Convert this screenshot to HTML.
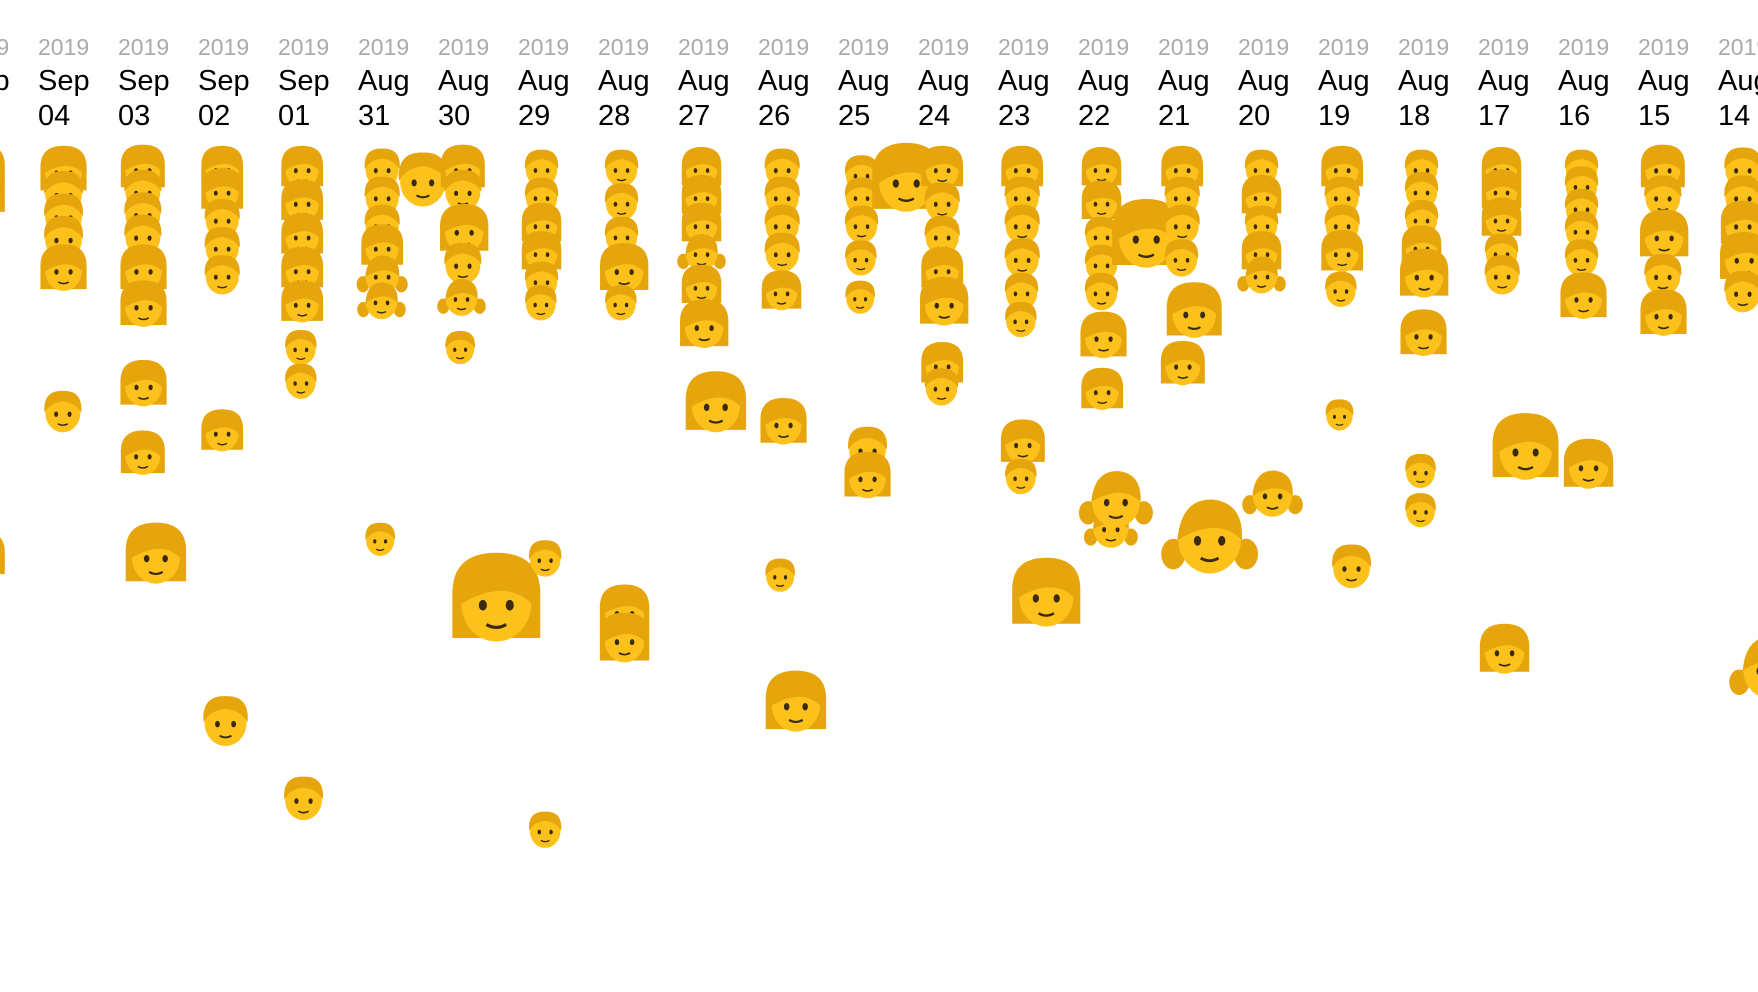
<!DOCTYPE html>
<html><head><meta charset="utf-8">
<style>
html,body{margin:0;padding:0;background:#fff;}
svg{display:block;}
.yr{font-family:"Liberation Sans",sans-serif;font-size:23px;fill:#aaa;}
.md{font-family:"Liberation Sans",sans-serif;font-size:29px;fill:#000;}
</style></head>
<body>
<svg id="chart" width="1758" height="992" viewBox="0 0 1758 992" xmlns="http://www.w3.org/2000/svg"></svg>
<script>
const months=["Sep","Sep","Sep","Sep","Sep","Aug","Aug","Aug","Aug","Aug","Aug","Aug","Aug","Aug","Aug","Aug","Aug","Aug","Aug","Aug","Aug","Aug","Aug"];
const days=["05","04","03","02","01","31","30","29","28","27","26","25","24","23","22","21","20","19","18","17","16","15","14"];
const years=["2019","2019","2019","2019","2019","2019","2019","2019","2019","2019","2019","2019","2019","2019","2019","2019","2019","2019","2019","2019","2019","2019","2019"];
const faceValues=[
[150,172,290,495],
[152,172,192,212,240,367],
[150,170,190,210,240,272,343,405,495],
[150,170,195,220,245,385,643],
[150,180,210,240,270,310,340,712],
[150,175,200,220,245,268,160,481],
[150,170,205,235,265,310,535],
[150,175,200,225,250,270,498,740],
[150,180,210,240,270,545,570],
[150,175,200,225,255,290,360],
[150,175,200,225,260,377,513,627],
[155,175,200,230,265,160,400,425],
[150,180,210,240,270,325,345],
[150,175,200,230,260,285,395,425,530],
[150,180,210,235,210,260,300,348,470,445],
[150,175,200,230,278,325,478],
[150,175,200,225,245,440],
[150,175,200,225,258,370,505],
[150,170,195,220,245,298,420,455],
[150,170,195,225,245,400,580],
[150,165,185,205,230,265,415],
[150,175,210,245,280],
[150,175,200,230,260,595]
];
const faceSizes=[
[40,40,20,40],
[42,42,42,42,42,40],
[40,40,40,40,42,42,42,40,55],
[38,38,38,38,38,38,48],
[38,38,38,38,38,34,34,42],
[38,38,38,38,38,36,52,32],
[40,40,44,40,36,32,80],
[36,36,36,36,36,34,35,35],
[36,36,36,44,34,45,45],
[36,36,36,36,36,44,55],
[38,38,38,38,36,42,32,55],
[36,36,36,34,32,62,42,42],
[38,38,38,38,44,38,36],
[38,38,38,38,36,34,40,34,62],
[36,36,36,36,62,36,42,38,40,55],
[38,38,38,36,50,40,72],
[36,36,36,36,36,45],
[38,38,38,38,34,30,42],
[36,36,36,36,44,42,33,33],
[36,36,36,36,38,60,45],
[36,36,36,36,36,42,45],
[40,40,44,40,42],
[40,40,40,44,40,60]
];
const faceKinds=[
["w","w","m","w"],
["w","m","m","m","w","m"],
["w","m","m","m","w","w","w","w","w"],
["w","w","m","m","m","w","m"],
["w","w","w","w","w","m","m","b"],
["m","m","m","w","g","g","m","b"],
["w","m","w","m","g","b","w"],
["m","m","w","w","m","m","m","m"],
["m","m","m","w","m","w","w"],
["w","w","w","g","w","w","w"],
["m","m","m","m","w","w","m","w"],
["m","m","m","m","m","w","m","w"],
["w","m","m","w","w","w","m"],
["w","m","m","m","m","m","w","m","w"],
["w","w","m","m","w","m","w","w","g","g"],
["w","m","m","m","w","w","g"],
["m","w","m","w","g","g"],
["w","m","m","w","m","m","m"],
["m","m","m","w","w","w","m","m"],
["w","w","w","m","m","w","w"],
["m","m","m","m","m","w","w"],
["w","m","w","m","w"],
["m","m","w","w","m","g"]
];
const faceJitter=[
[0,0,0,0],[0,0,0,0,0,0],[0,0,0,0,0,0,0,0,0.1],[0,0,0,0,0,0,0],[0,0,0,0,0,0,0,0],
[0,0,0,0,0,0,0.45,0],[0,0,0,0,0,0,0.25],[0,0,0,0,0,0,0.05,0.05],[0,0,0,0,0,0,0],[0,0,0,0,0,0,0.1],
[0,0,0,0,0,0,0,0.1],[0,0,0,0,0,0.45,0.05,0.05],[0,0,0,0,0,0,0],[0,0,0,0,0,0,0,0,0.2],
[0,0,0,0,0.45,0,0,0,0.1,0.1],[0,0,0,0,0.1,0,0.2],[0,0,0,0,0,0.1],[0,0,0,0,0,0,0.1],
[0,0,0,0,0,0,0,0],[0,0,0,0,0,0.2,0],[0,0,0,0,0,0,0.05],[0,0,0,0,0],[0,0,0,0,0,0.25]
];
const NS="http://www.w3.org/2000/svg";
const svg=document.getElementById('chart');
const K=1758/1568;
function xScale(i){return -42+i*80;}
function yScale(v){return v*K;}
function mk(tag,attrs,parent){const e=document.createElementNS(NS,tag);for(const k in attrs)e.setAttribute(k,attrs[k]);(parent||svg).appendChild(e);return e;}
const SK="#fcc21b",HR="#e6a50c",DK="#3b2a12";
function face(g,cx,cy,s,kind){
  const r=s/2;
  if(kind==="w"){
    mk('path',{d:`M${cx-r*0.98},${cy+r*0.85} L${cx-r*0.98},${cy-r*0.1} Q${cx-r},${cy-r*1.05} ${cx},${cy-r*1.05} Q${cx+r},${cy-r*1.05} ${cx+r*0.98},${cy-r*0.1} L${cx+r*0.98},${cy+r*0.85} Z`,fill:HR},g);
  }
  if(kind==="g"){
    mk('ellipse',{cx:cx-r*0.9,cy:cy+r*0.45,rx:r*0.3,ry:r*0.38,fill:HR},g);
    mk('ellipse',{cx:cx+r*0.9,cy:cy+r*0.45,rx:r*0.3,ry:r*0.38,fill:HR},g);
  }
  mk('ellipse',{cx:cx,cy:cy+r*0.08,rx:r*0.78,ry:r*0.85,fill:SK},g);
  if(kind==="m"||kind==="b"){
    mk('path',{d:`M${cx-r*0.82},${cy+r*0.05} Q${cx-r*0.9},${cy-r*0.95} ${cx},${cy-r*0.92} Q${cx+r*0.9},${cy-r*0.95} ${cx+r*0.82},${cy+r*0.05} Q${cx+r*0.55},${cy-r*0.4} ${cx},${cy-r*0.45} Q${cx-r*0.55},${cy-r*0.4} ${cx-r*0.82},${cy+r*0.05} Z`,fill:HR},g);
  } else {
    mk('path',{d:`M${cx-r*0.8},${cy+r*0.1} Q${cx-r*0.7},${cy-r*0.95} ${cx+r*0.1},${cy-r*0.9} Q${cx+r*0.85},${cy-r*0.8} ${cx+r*0.8},${cy+r*0.1} Q${cx+r*0.2},${cy-r*0.5} ${cx-r*0.8},${cy+r*0.1} Z`,fill:HR},g);
  }
  mk('ellipse',{cx:cx-r*0.3,cy:cy+r*0.12,rx:r*0.09,ry:r*0.12,fill:DK},g);
  mk('ellipse',{cx:cx+r*0.3,cy:cy+r*0.12,rx:r*0.09,ry:r*0.12,fill:DK},g);
  mk('path',{d:`M${cx-r*0.22},${cy+r*0.55} Q${cx},${cy+r*0.68} ${cx+r*0.22},${cy+r*0.55}`,stroke:DK,'stroke-width':Math.max(1,r*0.07),fill:'none'},g);
}
for(let i=0;i<days.length;i++){
  const x=xScale(i);
  const col=mk('g',{});
  
  
  const t1=mk('text',{x:x,y:55,class:'yr'},col);t1.textContent=years[i];
  
  
  const t2=mk('text',{x:x,y:90,class:'md'},col);t2.textContent=months[i];
  
  
  const t3=mk('text',{x:x,y:125,class:'md'},col);t3.textContent=days[i];
  
  
  const vals=faceValues[i];
  for(let j=0;j<vals.length;j++){
    const s=faceSizes[i][j]*K;
    const cx=x+24+faceJitter[i][j]*80+ (s-42)*0.3;
    const g=mk('g',{},col);
    
    
    face(g,cx,yScale(vals[j]),s,faceKinds[i][j]);
  }
}
</script>
</body></html>
